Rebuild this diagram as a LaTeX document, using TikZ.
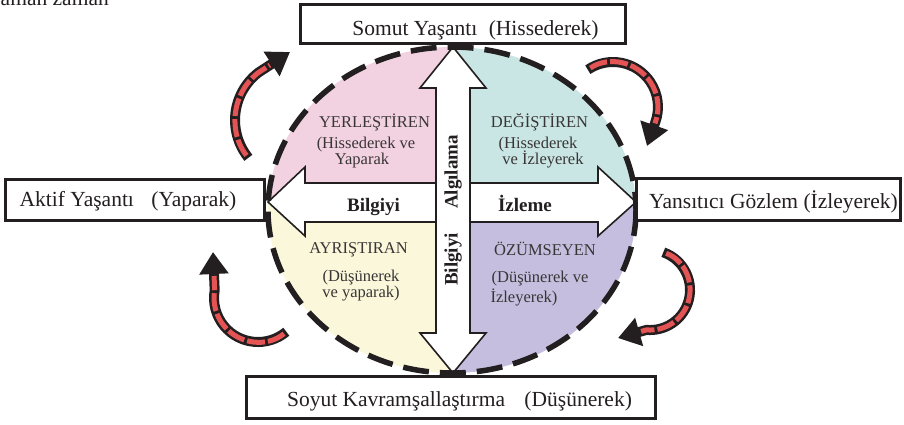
\documentclass[tikz,border=0pt]{standalone}
\usepackage{fontspec}
\setmainfont{Liberation Serif}
\usetikzlibrary{arrows.meta}
\definecolor{qpink}{RGB}{242,210,225}
\definecolor{qteal}{RGB}{201,230,228}
\definecolor{qyellow}{RGB}{250,247,218}
\definecolor{qlav}{RGB}{197,190,222}
\definecolor{cred}{RGB}{228,84,84}
\definecolor{ink}{RGB}{35,31,32}
\tikzset{
  boxshape/.style={draw=ink, line width=3pt, fill=white, inner sep=0pt},
  boxtext/.style={font=\fontsize{21.5}{24}\selectfont, inner sep=0pt, anchor=base, text=ink},
  qtext/.style={font=\fontsize{16.5}{19}\selectfont, inner sep=0pt, anchor=base, text=ink!90},
  btext/.style={font=\bfseries\fontsize{19}{22}\selectfont, inner sep=0pt, text=ink},
  dblarrow/.style={draw=ink, line width=1.6pt, fill=white, line join=miter},
  rim/.style={draw=ink, line width=5.5pt, dash pattern=on 26pt off 11pt},
  curlblack/.style={draw=ink, line width=10pt, -{Triangle[length=22pt,width=28pt]}},
  curlred/.style={draw=cred, line width=5pt, dash pattern=on 18pt off 3pt, shorten >=24pt, shorten <=3pt}
}
\begin{document}
\begin{tikzpicture}[x=1pt,y=1pt,yscale=-1]
\useasboundingbox (0,0) rectangle (904,424);

% cropped caption at the top left
\node[boxtext, anchor=base west] (zaman) at (-9,5) {zaman zaman};

% quadrant fills
\begin{scope}
  \clip (452,210) ellipse [x radius=184, y radius=163];
  \fill[qpink] (260,40) rectangle (453,202);
  \fill[qteal] (453,40) rectangle (645,202);
  \fill[qyellow] (260,202) rectangle (453,380);
  \fill[qlav] (453,202) rectangle (645,380);
\end{scope}

% horizontal double arrow
\draw[dblarrow] (268,202) -- (305,167) -- (305,183) -- (598,183) -- (598,167) -- (636,202)
  -- (598,236) -- (598,222) -- (305,222) -- (305,236) -- cycle;
% vertical double arrow
\draw[dblarrow] (453,47) -- (486,88) -- (470,88) -- (470,333) -- (486,333) -- (453,373)
  -- (420,333) -- (436,333) -- (436,88) -- (420,88) -- cycle;

% dashed rim
\draw[rim] (452,210) ellipse [x radius=184, y radius=163];

% curly cycle arrows
\coordinate (tlS) at (248.4,157.8);
\coordinate (tlE) at (290,52);
\draw[curlblack] (tlS) arc[start angle=141, end angle=232, radius=60] -- (tlE);
\draw[curlred] (tlS) arc[start angle=141, end angle=232, radius=60] -- (tlE);

\coordinate (trS) at (587.8,69.7);
\coordinate (trE) at (647,146);
\draw[curlblack] (trS) arc[start angle=236, end angle=380, radius=45] -- (trE);
\draw[curlred] (trS) arc[start angle=236, end angle=380, radius=45] -- (trE);

\coordinate (brS) at (663.3,252.3);
\coordinate (brE) at (618,338);
\draw[curlblack] (brS) arc[start angle=289.4, end angle=455, radius=40] -- (brE);
\draw[curlred] (brS) arc[start angle=289.4, end angle=455, radius=40] -- (brE);

\coordinate (blS) at (286.3,331.7);
\coordinate (blE) at (213,252);
\draw[curlblack] (blS) arc[start angle=50, end angle=190, radius=44] -- (blE);
\draw[curlred] (blS) arc[start angle=50, end angle=190, radius=44] -- (blE);

% boxes
\node[boxshape, minimum width=325pt, minimum height=39pt] (somut) at (463,24) {};
\node[boxshape, minimum width=259pt, minimum height=41pt] (aktif) at (135,200) {};
\node[boxshape, minimum width=264pt, minimum height=42pt] (yansitici) at (768.5,199.5) {};
\node[boxshape, minimum width=409pt, minimum height=42pt] (soyut) at (451,397.5) {};

\node[boxtext] (somutT) at (475.5,35) {Somut Yaşantı\hspace{6pt} (Hissederek)};
\node[boxtext] (aktifT) at (128,206) {Aktif Yaşantı\hspace{12pt} (Yaparak)};
\node[boxtext] (yansiticiT) at (773.5,208) {Yansıtıcı Gözlem (İzleyerek)};
\node[boxtext] (soyutT) at (459.5,406) {Soyut Kavramşallaştırma\hspace{14pt} (Düşünerek)};

% quadrant labels
\node[qtext] (yer1) at (374.5,127) {YERLEŞTİREN};
\node[qtext] (yer2) at (366,148) {(Hissederek ve};
\node[qtext] (yer3) at (362,164) {Yaparak};

\node[qtext] (deg1) at (539.5,127) {DEĞİŞTİREN};
\node[qtext] (deg2) at (538,148) {(Hissederek};
\node[qtext] (deg3) at (543,164) {ve İzleyerek};

\node[qtext] (ayr1) at (358.5,253) {AYRIŞTIRAN};
\node[qtext] (ayr2) at (361,281) {(Düşünerek};
\node[qtext] (ayr3) at (361,297) {ve yaparak)};

\node[qtext] (ozu1) at (545,255) {ÖZÜMSEYEN};
\node[qtext] (ozu2) at (540,282) {(Düşünerek ve};
\node[qtext] (ozu3) at (524,302) {İzleyerek)};

% arrow labels
\node[btext, anchor=base] (bilgiyiH) at (373.5,211) {Bilgiyi};
\node[btext, anchor=base] (izleme) at (525,211) {İzleme};
\node[btext, rotate=90] (algilama) at (453,172) {Algılama};
\node[btext, rotate=90] (bilgiyiV) at (453,259.5) {Bilgiyi};
\end{tikzpicture}
\end{document}
